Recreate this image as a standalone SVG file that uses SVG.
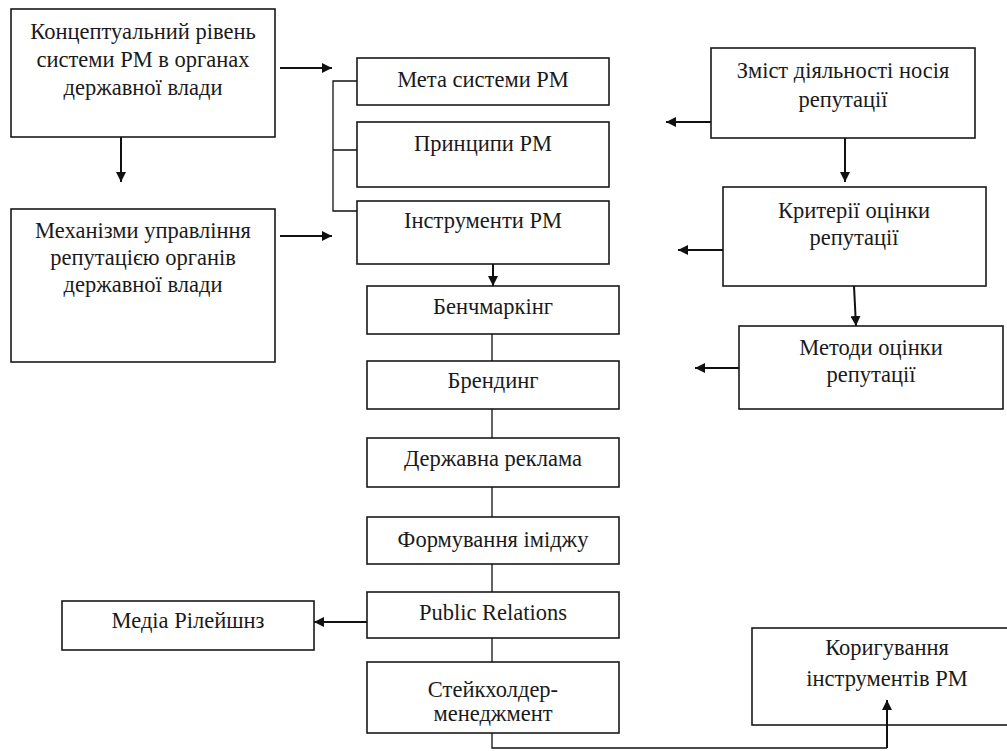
<svg xmlns="http://www.w3.org/2000/svg" width="1007" height="751" viewBox="0 0 1007 751">
<style>
.box{fill:#fff;stroke:#1a1a1a;stroke-width:1.6}
.t{font-family:'Liberation Serif','Times New Roman',Times,'DejaVu Serif',serif;font-size:22.5px;fill:#1a1a1a;text-anchor:middle}
.c{fill:none;stroke:#111;stroke-width:1.3}
.a{fill:none;stroke:#111;stroke-width:2}
</style>
<defs>
<marker id="arr" viewBox="0 0 10 10" refX="10" refY="5" markerWidth="10" markerHeight="10" markerUnits="userSpaceOnUse" orient="auto">
<path d="M0,0 L10,5 L0,10 z" fill="#111"/>
</marker>
</defs>
<rect width="1007" height="751" fill="#fff"/>

<g id="n-concept">
<rect class="box" x="11" y="9" width="264" height="128"/>
<text class="t" x="143" y="39">Концептуальний рівень</text>
<text class="t" x="143" y="67">системи РМ в органах</text>
<text class="t" x="143" y="95">державної влади</text>
</g>
<g id="n-mech">
<rect class="box" x="11" y="209" width="264" height="153"/>
<text class="t" x="143" y="238">Механізми управління</text>
<text class="t" x="143" y="265">репутацією органів</text>
<text class="t" x="143" y="292">державної влади</text>
</g>
<g id="n-meta">
<rect class="box" x="357" y="58" width="252" height="47"/>
<text class="t" x="483" y="87">Мета системи РМ</text>
</g>
<g id="n-princ">
<rect class="box" x="357" y="122" width="252" height="65"/>
<text class="t" x="483" y="151">Принципи РМ</text>
</g>
<g id="n-instr">
<rect class="box" x="357" y="201" width="252" height="63"/>
<text class="t" x="483" y="228">Інструменти РМ</text>
</g>
<g id="n-zmist">
<rect class="box" x="711" y="48" width="264" height="90"/>
<text class="t" x="843" y="78">Зміст діяльності носія</text>
<text class="t" x="843" y="107">репутації</text>
</g>
<g id="n-krit">
<rect class="box" x="723" y="187" width="263" height="99"/>
<text class="t" x="854" y="218">Критерії оцінки</text>
<text class="t" x="854" y="245">репутації</text>
</g>
<g id="n-metody">
<rect class="box" x="739" y="326" width="264" height="83"/>
<text class="t" x="871" y="355">Методи оцінки</text>
<text class="t" x="871" y="382">репутації</text>
</g>
<g id="n-bench">
<rect class="box" x="367" y="286" width="252" height="48"/>
<text class="t" x="493" y="314">Бенчмаркінг</text>
</g>
<g id="n-brand">
<rect class="box" x="367" y="361" width="252" height="48"/>
<text class="t" x="493" y="388">Брендинг</text>
</g>
<g id="n-ads">
<rect class="box" x="367" y="438" width="252" height="49"/>
<text class="t" x="493" y="466">Державна реклама</text>
</g>
<g id="n-image">
<rect class="box" x="367" y="517" width="252" height="47"/>
<text class="t" x="493" y="547">Формування іміджу</text>
</g>
<g id="n-pr">
<rect class="box" x="367" y="592" width="252" height="46"/>
<text class="t" x="493" y="620">Public Relations</text>
</g>
<g id="n-media">
<rect class="box" x="62" y="601" width="252" height="49"/>
<text class="t" x="188" y="628">Медіа Рілейшнз</text>
</g>
<g id="n-stake">
<rect class="box" x="367" y="662" width="252" height="71"/>
<text class="t" x="493" y="697">Стейкхолдер-</text>
<text class="t" x="493" y="721">менеджмент</text>
</g>
<g id="n-korig">
<rect class="box" x="752" y="628" width="270" height="97"/>
<text class="t" x="887" y="655">Коригування</text>
<text class="t" x="887" y="686">інструментів РМ</text>
</g>

<g id="connectors">
<path class="a" d="M280,68 H332" marker-end="url(#arr)"/>
<path class="a" d="M121,137 V182" marker-end="url(#arr)"/>
<path class="c" d="M357,81 H333 V211 H357 M333,150 H357"/>
<path class="a" d="M280,236 H332" marker-end="url(#arr)"/>
<path class="a" d="M493,264 V286" marker-end="url(#arr)"/>
<path class="a" d="M711,122 H666" marker-end="url(#arr)"/>
<path class="a" d="M845,138 V182" marker-end="url(#arr)"/>
<path class="a" d="M723,250 H678" marker-end="url(#arr)"/>
<path class="a" d="M854,286 L856,326" marker-end="url(#arr)"/>
<path class="a" d="M739,368 H695" marker-end="url(#arr)"/>
<path class="c" d="M492,334 V361 M492,409 V438 M492,487 V517 M492,564 V592 M492,638 V662"/>
<path class="a" d="M367,622 H314" marker-end="url(#arr)"/>
<path class="c" d="M492,733 V748 H887"/>
<path class="a" d="M887,748 V700" marker-end="url(#arr)"/>
</g>
</svg>
